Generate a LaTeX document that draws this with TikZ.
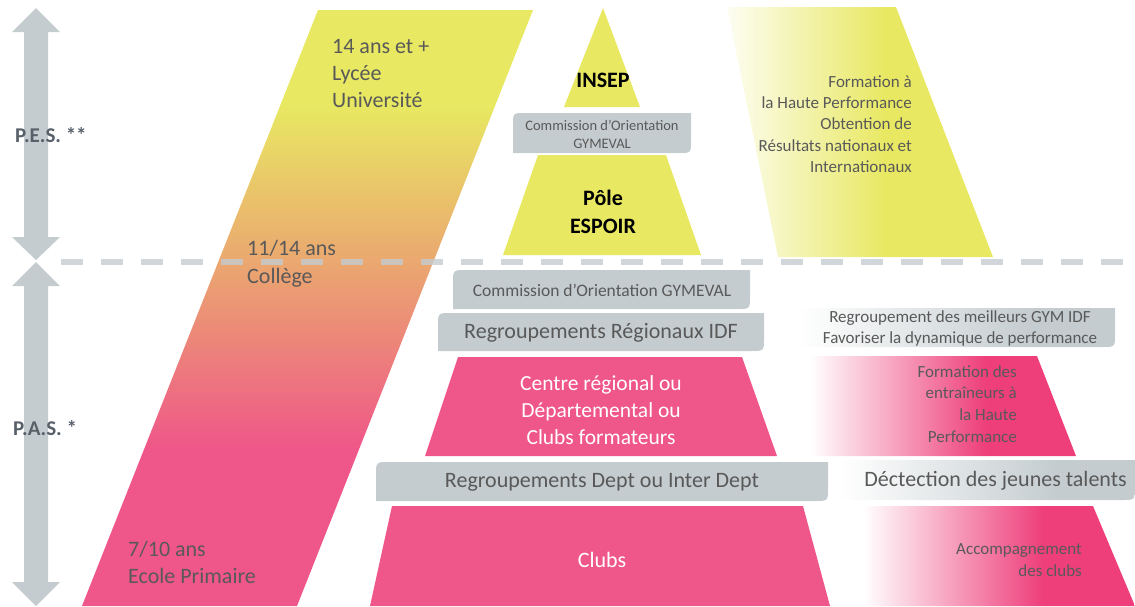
\documentclass[tikz,border=0pt]{standalone}
\usepackage{fontspec}
\setmainfont{Carlito}
\usepackage{xcolor}

\definecolor{greybox}{HTML}{C4CCCF}
\definecolor{txtgrey}{HTML}{595959}
\definecolor{pesgrey}{HTML}{58606A}
\definecolor{pinkc}{HTML}{EF5689}
\definecolor{pinkd}{HTML}{EE3F7B}
\definecolor{yellowc}{HTML}{E8E862}
\definecolor{orangec}{HTML}{EB9E72}

\pgfdeclareverticalshading{ageband}{100bp}{color(0bp)=(pinkc); color(38bp)=(pinkc); color(52bp)=(orangec); color(67bp)=(yellowc); color(100bp)=(yellowc)}
\pgfdeclarehorizontalshading{fadeyellow}{100bp}{color(0bp)=(white); color(25bp)=(white!92!yellowc); color(55bp)=(yellowc); color(100bp)=(yellowc)}
\pgfdeclarehorizontalshading{fadepink}{100bp}{color(0bp)=(white); color(25bp)=(white); color(58bp)=(pinkd); color(100bp)=(pinkd)}
\pgfdeclarehorizontalshading{fadegrey}{100bp}{color(0bp)=(white); color(25bp)=(white); color(62bp)=(greybox); color(100bp)=(greybox)}

\tikzset{
  txt/.style={inner sep=0pt, text=txtgrey},
  title/.style={inner sep=0pt, text=black, font=\bfseries\fontsize{22}{28}\selectfont, align=center},
  dashline/.style={greybox, line width=6pt, dash pattern=on 22pt off 18pt}
}

\begin{document}
\begin{tikzpicture}[x=1pt,y=-1pt]
    \useasboundingbox (0,0) rectangle (1135,606);

    % left arrows
    \fill[greybox] (36,8) -- (60,32) -- (48,32) -- (48,237) -- (60,237) -- (36,260) -- (12,237) -- (24,237) -- (24,32) -- (12,32) -- cycle;
    \fill[greybox] (36,262) -- (60,286) -- (48,286) -- (48,582) -- (60,582) -- (36,606) -- (12,582) -- (24,582) -- (24,286) -- (12,286) -- cycle;
    \node (pes) at (15,135) [txt, anchor=west, text=pesgrey, font=\bfseries\fontsize{21}{24}\selectfont] {P.E.S. **};
    \node (pas) at (13,428) [txt, anchor=west, text=pesgrey, font=\bfseries\fontsize{21}{24}\selectfont] {P.A.S. *};

    % age band
    \shade[shading=ageband] (318,10) -- (533,10) -- (297,606) -- (82,606) -- cycle;
    \node (lycee) at (332,73) [txt, anchor=west, align=left, font=\fontsize{22}{27}\selectfont] {14 ans et +\\Lycée\\Université};
    \node (college) at (247,264) [txt, anchor=west, align=left, font=\fontsize{22}{28}\selectfont] {11/14 ans\\Collège};
    \node (primaire) at (128,562) [txt, anchor=west, align=left, font=\fontsize{22}{27}\selectfont] {7/10 ans\\Ecole Primaire};

    % top pyramid
    \fill[yellowc] (603,8) -- (640,107) -- (564,107) -- cycle;
    \node (insep) at (603,80) [title] {INSEP};
    \fill[greybox] (513,153) -- (513,125) .. controls (513,113) .. (525,113) -- (691,113) -- (691,141) .. controls (691,153) .. (679,153) -- cycle;
    \node (comtop) at (602,134) [txt, align=center, font=\fontsize{14.5}{18}\selectfont] {Commission d’Orientation\\GYMEVAL};
    \fill[yellowc] (538,155) -- (666,155) -- (701,255) -- (503,255) -- cycle;
    \node (pole) at (603,212) [title] {Pôle\\ESPOIR};

    % top right
    \shade[shading=fadeyellow] (727,7) -- (896,7) -- (993,257) -- (778,257) -- cycle;
    \node (hautperf) at (912,124) [txt, anchor=east, align=right, font=\fontsize{17}{21.3}\selectfont] {Formation à\\la Haute Performance\\Obtention de\\Résultats nationaux et\\Internationaux};

    \draw[dashline, opacity=0.8] (61,262) -- (1135,262);

    % lower pyramid
    \fill[greybox] (453,309) -- (453,283) .. controls (453,270) .. (466,270) -- (750,270) -- (750,296) .. controls (750,309) .. (737,309) -- cycle;
    \node (comlow) at (602,290) [txt, font=\fontsize{17.5}{20}\selectfont] {Commission d’Orientation GYMEVAL};
    \fill[greybox] (438,351) -- (438,326) .. controls (438,313) .. (451,313) -- (764,313) -- (764,338) .. controls (764,351) .. (751,351) -- cycle;
    \node (regidf) at (601,333) [txt, font=\fontsize{22}{24}\selectfont] {Regroupements Régionaux IDF};
    \fill[pinkc] (458,357) -- (742,357) -- (777,456) -- (425,456) -- cycle;
    \node (centre) at (601,410) [txt, text=white, align=center, font=\fontsize{21.5}{27}\selectfont] {Centre régional ou\\Départemental ou\\Clubs formateurs};
    \fill[greybox] (376,501) -- (376,475) .. controls (376,462) .. (389,462) -- (828,462) -- (828,488) .. controls (828,501) .. (815,501) -- cycle;
    \node (dept) at (602,482) [txt, font=\fontsize{22}{24}\selectfont] {Regroupements Dept ou Inter Dept};
    \fill[pinkc] (392,506) -- (803,506) -- (830,606) -- (370,606) -- cycle;
    \node (clubs) at (602,560) [txt, text=white, font=\fontsize{22}{24}\selectfont] {Clubs};

    % lower right
    \shade[shading=fadegrey] (800,308) -- (1115,308) -- (1115,334) .. controls (1115,347) .. (1102,347) -- (800,347) -- cycle;
    \node (meilleurs) at (960,328) [txt, align=center, font=\fontsize{17}{21}\selectfont] {Regroupement des meilleurs GYM IDF\\Favoriser la dynamique de performance};
    \shade[shading=fadepink] (810,356) -- (1037,356) -- (1076,456) -- (810,456) -- cycle;
    \node (entraineurs) at (1017,404) [txt, anchor=east, align=right, font=\fontsize{17}{21.7}\selectfont] {Formation des\\entraîneurs à\\la Haute\\Performance};
    \shade[shading=fadegrey] (840,460) -- (1135,460) -- (1135,487) .. controls (1135,500) .. (1122,500) -- (840,500) -- cycle;
    \node (talents) at (1127,481) [txt, anchor=east, font=\fontsize{22}{24}\selectfont] {Déctection des jeunes talents};
    \shade[shading=fadepink] (863,506) -- (1093,506) -- (1135,606) -- (863,606) -- cycle;
    \node (accomp) at (1082,560) [txt, anchor=east, align=right, font=\fontsize{17}{22}\selectfont] {Accompagnement\\des clubs};
\end{tikzpicture}
\end{document}
